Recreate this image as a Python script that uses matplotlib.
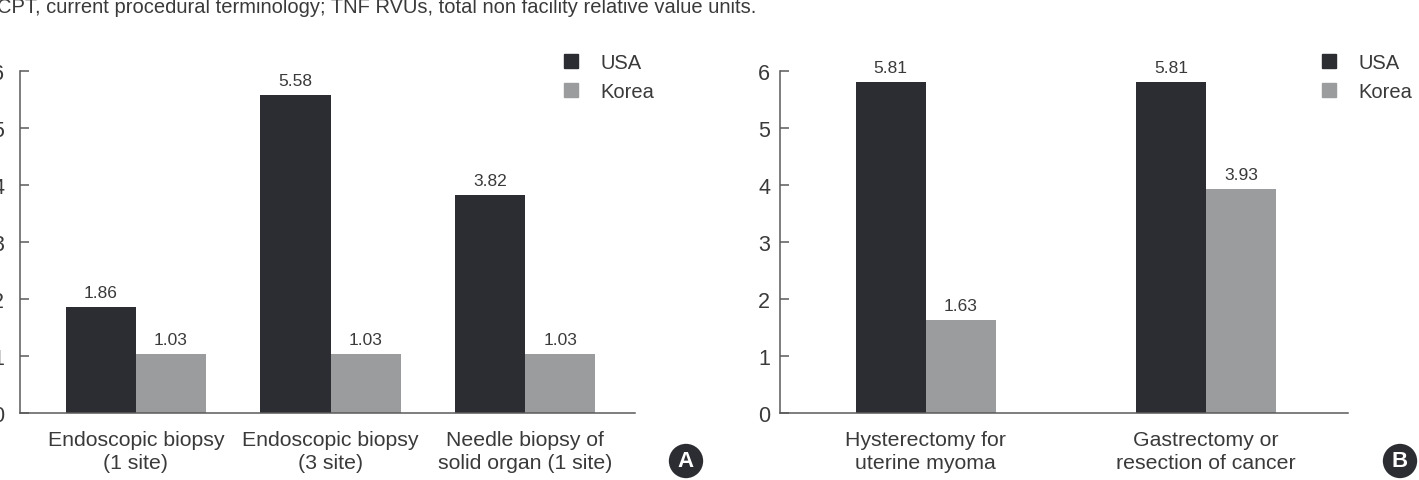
import matplotlib
matplotlib.use("Agg")
import matplotlib.pyplot as plt
from matplotlib.lines import Line2D
import numpy as np

plt.rcParams['font.family'] = ['Liberation Sans', 'DejaVu Sans']

# ---- data ----
cats_a = ["Endoscopic biopsy\n(1 site)", "Endoscopic biopsy\n(3 site)", "Needle biopsy of\nsolid organ (1 site)"]
usa_a = [1.86, 5.58, 3.82]
korea_a = [1.03, 1.03, 1.03]

cats_b = ["Hysterectomy for\nuterine myoma", "Gastrectomy or\nresection of cancer"]
usa_b = [5.81, 5.81]
korea_b = [1.63, 3.93]

series_names = ["USA", "Korea"]
yticks = [0, 1, 2, 3, 4, 5, 6]
panel_letters = ["A", "B"]
caption = "CPT, current procedural terminology; TNF RVUs, total non facility relative value units."

C_USA = "#2c2d32"
C_KOR = "#9b9c9d"
C_TXT = "#3a3a3a"
C_AX = "#5a5a5a"

W, H = 1419, 481
fig = plt.figure(figsize=(W / 100, H / 100), dpi=100)

def px_axes(l, r, b, t):
    return fig.add_axes([l / W, (H - b) / H, (r - l) / W, (b - t) / H])

def panel(ax, cats, usa, kor, width, xlim, ypad, letter, letter_x, leg_x):
    x = np.arange(len(cats))
    b1 = ax.bar(x - width / 2, usa, width, color=C_USA, edgecolor='none')
    b2 = ax.bar(x + width / 2, kor, width, color=C_KOR, edgecolor='none')
    for bars, vals in ((b1, usa), (b2, kor)):
        ax.bar_label(bars, labels=[f"{v:.2f}" for v in vals], padding=5,
                     fontsize=12.5, color=C_TXT)
    ax.set_xlim(*xlim)
    ax.set_ylim(0, 6)
    ax.set_yticks(yticks)
    ax.set_yticklabels([str(t) for t in yticks])
    ax.set_xticks(x)
    ax.set_xticklabels(cats, fontsize=15.3, color=C_TXT, linespacing=1.3)
    ax.tick_params(axis='x', length=0, pad=12)
    ax.tick_params(axis='y', direction='in', length=6.5, width=1.1, color=C_AX,
                   labelsize=15.5, labelcolor=C_TXT, pad=ypad)
    for s in ('top', 'right'):
        ax.spines[s].set_visible(False)
    for s in ('left', 'bottom'):
        ax.spines[s].set_color(C_AX)
        ax.spines[s].set_linewidth(1.1)
    ax.patch.set_alpha(0)
    handles = [Line2D([], [], marker='s', ls='', color=c, markersize=9.5)
               for c in (C_USA, C_KOR)]
    fig.legend(handles, series_names, loc='upper left',
               bbox_to_anchor=(leg_x / W, (H - 54) / H), frameon=False,
               fontsize=14.5, handlelength=1.0, handletextpad=0.95,
               labelspacing=0.5, borderpad=0, borderaxespad=0,
               labelcolor=C_TXT)
    fig.text(letter_x / W, (H - 462) / H, letter, color='white', fontsize=16,
             fontweight='bold', ha='center', va='center',
             bbox=dict(boxstyle='circle,pad=0.3', fc=C_USA, ec='none'))

ax_a = px_axes(20, 635, 414, 72)
panel(ax_a, cats_a, usa_a, korea_a, 0.36, (-0.595, 2.564), 11.5,
      panel_letters[0], 686, 561)

ax_b = px_axes(780, 1348, 414, 72)
panel(ax_b, cats_b, usa_b, korea_b, 0.25, (-0.52, 1.507), 7.0,
      panel_letters[1], 1400, 1319)

fig.text(-3 / W, (H - 13) / H, caption, fontsize=14.5, color=C_TXT,
         ha='left', va='baseline')

fig.savefig("out.png", dpi=100, facecolor='white')
